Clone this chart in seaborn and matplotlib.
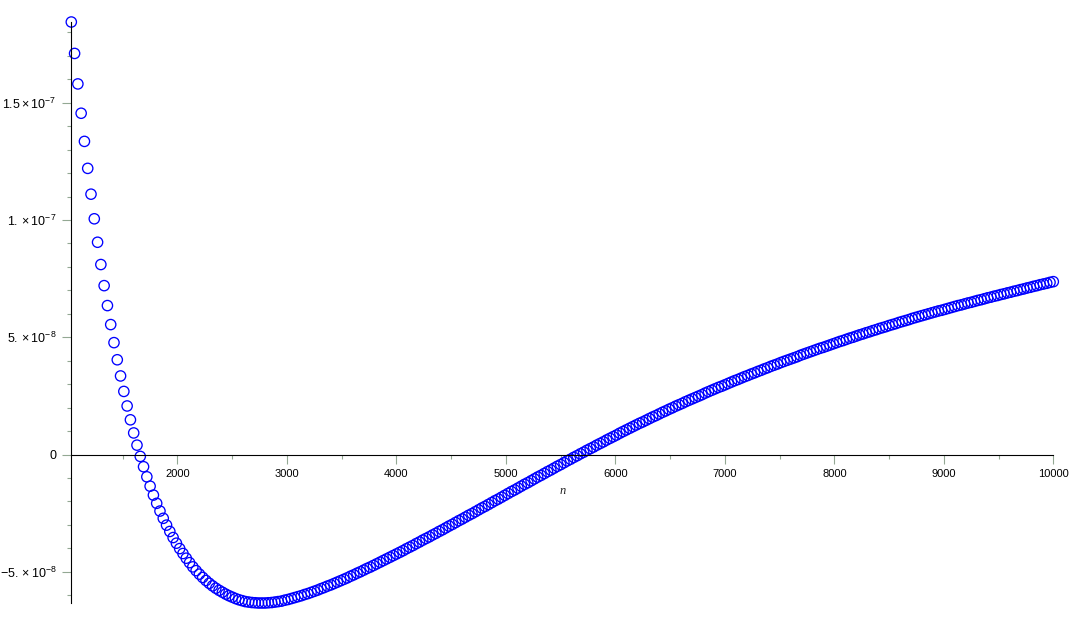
import numpy as np
import matplotlib
matplotlib.use('Agg')
import matplotlib.pyplot as plt
import seaborn as sns
from matplotlib.ticker import MultipleLocator

# sequence index n (every 30th value from 1030 to 10000)
n_values = np.arange(1030, 10001, 30)

# values, in units of 1e-8
y_e8 = [
    18.44, 17.10, 15.80, 14.55, 13.35, 12.20, 11.10, 10.05, 9.05, 8.10, 7.20,
    6.35, 5.54, 4.77, 4.04, 3.35, 2.69, 2.07, 1.48, 0.92, 0.40, -0.08,
    -0.52, -0.95, -1.35, -1.73, -2.08, -2.41, -2.72, -3.01, -3.28, -3.54,
    -3.78, -4.01, -4.22, -4.42, -4.61, -4.79, -4.95, -5.10, -5.24, -5.37,
    -5.49, -5.60, -5.70, -5.79, -5.87, -5.95, -6.02, -6.08, -6.14, -6.19,
    -6.23, -6.27, -6.29, -6.31, -6.32, -6.33, -6.33,
    -6.33, -6.32, -6.31, -6.29, -6.27, -6.25, -6.21,
    -6.18, -6.14, -6.10, -6.06, -6.02, -5.97, -5.93, -5.88, -5.83, -5.78,
    -5.72, -5.67, -5.61, -5.56, -5.50, -5.44, -5.38, -5.32, -5.26, -5.19,
    -5.13, -5.06, -5.00, -4.93, -4.86, -4.80, -4.73, -4.66, -4.59, -4.52,
    -4.45, -4.38, -4.31, -4.24,
    -4.17, -4.10, -4.02, -3.95, -3.88, -3.80, -3.73, -3.65, -3.58, -3.51,
    -3.43, -3.36, -3.28, -3.21, -3.13, -3.05,
    -2.98, -2.90, -2.82, -2.75, -2.67, -2.59, -2.52, -2.44, -2.36, -2.28,
    -2.21, -2.13, -2.05, -1.97, -1.90, -1.82, -1.74,
    -1.66, -1.58, -1.51, -1.43, -1.35, -1.27, -1.20, -1.12, -1.04, -0.96,
    -0.89, -0.81, -0.73, -0.66, -0.58, -0.50, -0.43,
    -0.35, -0.27, -0.20, -0.12, -0.05, 0.03, 0.10, 0.18, 0.25, 0.32,
    0.40, 0.47, 0.54, 0.62, 0.69, 0.76,
    0.83, 0.91, 0.98, 1.05, 1.12, 1.19, 1.26, 1.33, 1.39, 1.46,
    1.53, 1.60, 1.66, 1.73, 1.80, 1.86, 1.93,
    1.99, 2.06, 2.12, 2.18, 2.25, 2.31, 2.37, 2.43, 2.49, 2.55,
    2.62, 2.68, 2.74, 2.80, 2.86, 2.91, 2.97,
    3.03, 3.09, 3.15, 3.20, 3.26, 3.32, 3.37, 3.43, 3.48, 3.54,
    3.59, 3.65, 3.70, 3.76, 3.81, 3.86,
    3.92, 3.97, 4.02, 4.07, 4.12, 4.17, 4.23, 4.28, 4.33, 4.38,
    4.43, 4.48, 4.53, 4.57, 4.62, 4.67, 4.72,
    4.77, 4.82, 4.86, 4.91, 4.96, 5.00, 5.05, 5.10, 5.14, 5.19,
    5.23, 5.28, 5.32, 5.37, 5.41, 5.45, 5.50,
    5.54, 5.58, 5.63, 5.67, 5.71, 5.75, 5.80, 5.84, 5.88, 5.92,
    5.96, 6.00, 6.04, 6.08, 6.12, 6.15,
    6.19, 6.23, 6.27, 6.31, 6.35, 6.38, 6.42, 6.46, 6.49, 6.53,
    6.57, 6.60, 6.64, 6.68, 6.71, 6.75, 6.78,
    6.82, 6.85, 6.89, 6.92, 6.96, 6.99, 7.03, 7.06, 7.10, 7.13,
    7.17, 7.20, 7.24, 7.27, 7.30, 7.34, 7.37,
]
y_values = np.array(y_e8) * 1e-8

x_ticks = [2000, 3000, 4000, 5000, 6000, 7000, 8000, 9000, 10000]
x_labels = [str(t) for t in x_ticks]
y_ticks = [-5e-8, 0, 5e-8, 1e-7, 1.5e-7]
y_labels = [r'$-5.\times10^{-8}$', '0', r'$5.\times10^{-8}$',
            r'$1.\times10^{-7}$', r'$1.5\times10^{-7}$']

sns.set_style('white')
plt.rcParams['font.family'] = ['Liberation Sans', 'DejaVu Sans']
plt.rcParams['mathtext.fontset'] = 'custom'
plt.rcParams['mathtext.rm'] = 'Liberation Sans'
plt.rcParams['mathtext.it'] = 'Liberation Sans:italic'

fig = plt.figure(figsize=(10.82, 6.23), dpi=100)
ax = fig.add_axes([71.3 / 1082, 20 / 623, 982 / 1082, 581 / 623])

sns.scatterplot(x=n_values, y=y_values, ax=ax, marker='o', s=55, legend=False)
pts = ax.collections[0]
pts.set_facecolor('none')
pts.set_edgecolor('#0000ff')
pts.set_linewidth(0.95)
pts.set_clip_on(False)

ax.set_xlim(1030, 10000)
ax.set_ylim(y_values.min(), y_values.max())

ax.spines['top'].set_visible(False)
ax.spines['right'].set_visible(False)
ax.spines['bottom'].set_position(('data', 0))
for s in ['left', 'bottom']:
    ax.spines[s].set_color('black')
    ax.spines[s].set_linewidth(0.8)

ax.set_xticks(x_ticks, labels=x_labels)
ax.set_yticks(y_ticks, labels=y_labels)
ax.xaxis.set_minor_locator(MultipleLocator(500))
ax.yaxis.set_minor_locator(MultipleLocator(1e-8))

# seaborn's white style switches the tick marks off
tick_col = '#93a893'
ax.tick_params(axis='both', which='both', bottom=True, left=True,
               top=False, right=False)
ax.tick_params(axis='both', which='major', direction='out', length=6.5,
               width=0.8, color=tick_col, labelcolor='black', pad=4)
ax.tick_params(axis='both', which='minor', direction='out', length=3.2,
               width=0.8, color=tick_col)
ax.tick_params(axis='x', labelsize=8)
ax.tick_params(axis='y', labelsize=9)

ax.set_xlabel('')
ax.set_ylabel('')
ax.annotate('n', xy=(0.5, 0), xycoords=('axes fraction', 'data'),
            xytext=(0, -26), textcoords='offset points', ha='center',
            va='center', fontsize=9, family='Liberation Serif', style='italic')

fig.savefig('out.png', dpi=100)
